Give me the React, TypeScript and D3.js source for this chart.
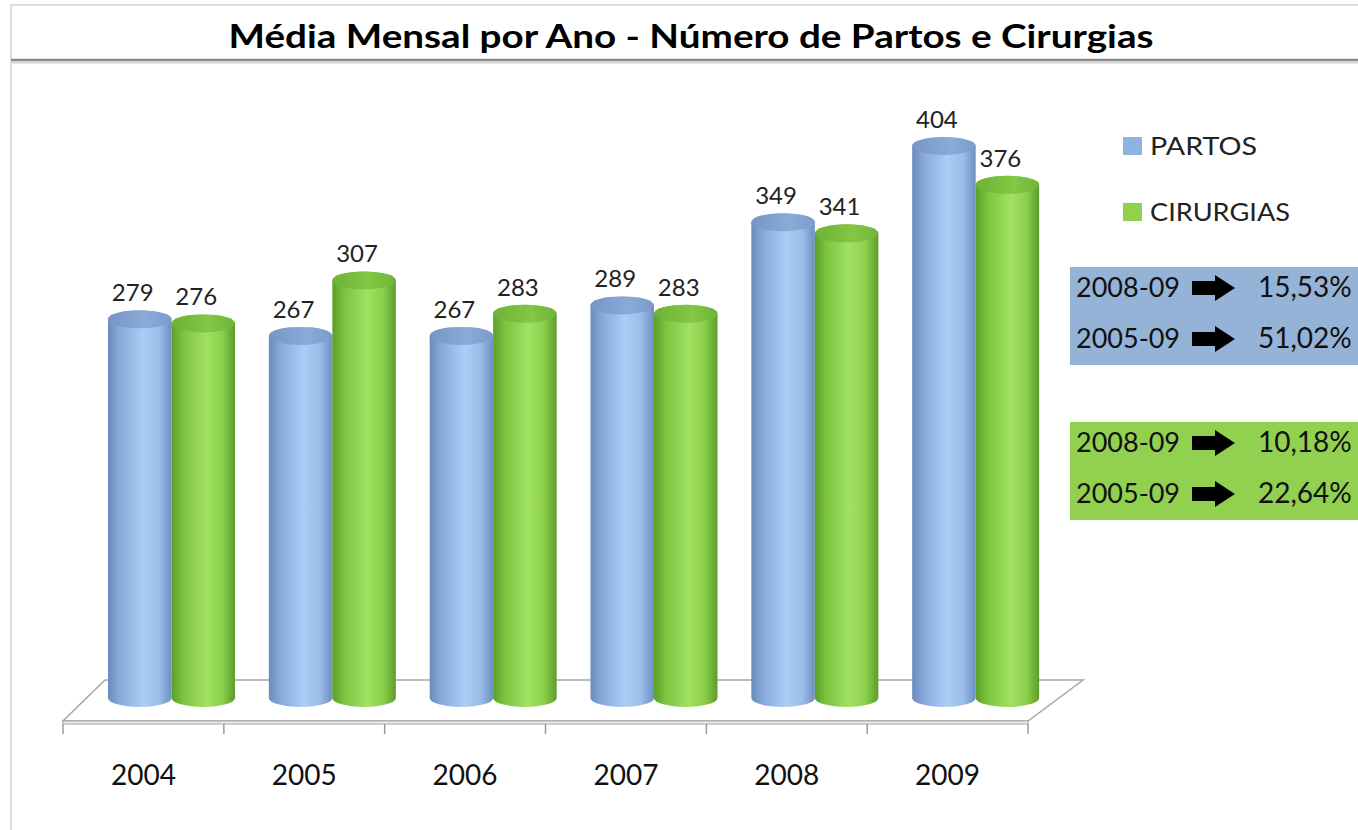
import React from 'react';
import * as d3 from 'd3';

const years = ['2004', '2005', '2006', '2007', '2008', '2009'];
const seriesNames = ['PARTOS', 'CIRURGIAS'];
const partos = [279, 267, 267, 289, 349, 404];
const cirurgias = [276, 307, 283, 283, 341, 376];
const partosChange = [['2008-09', '15,53%'], ['2005-09', '51,02%']];
const cirurgiasChange = [['2008-09', '10,18%'], ['2005-09', '22,64%']];
const titleText = 'Média Mensal por Ano - Número de Partos e Cirurgias';

const W = 1358;
const H = 830;
const FONT = 'Lato, "Open Sans", sans-serif';

const COLORS = {
  blueGrad: ['#6a8cbd', '#87a9d9', '#abcdf6', '#9abde9', '#6d90c2'],
  greenGrad: ['#5a9f28', '#7cc43e', '#a2e162', '#8bd04b', '#5c9c2b'],
  blueTop: '#8aaad8',
  greenTop: '#84c645',
  blueLegend: '#8db3e2',
  greenLegend: '#92d050',
  blueBox: '#95b3d7',
  greenBox: '#92d050',
};

function Arrow({ x, y }: { x: number; y: number }) {
  // y = vertical centre
  const p = [
    [x, y - 7], [x + 23, y - 7], [x + 23, y - 13], [x + 43, y], [x + 23, y + 13], [x + 23, y + 7], [x, y + 7],
  ];
  return <polygon points={p.map((d) => d.join(',')).join(' ')} fill="#000" />;
}

export default function App() {
  const floorFrontY = 721;
  const floorBackY = 680;
  const x0 = 63;
  const x1 = 1028;
  const depthDx = 42;

  const xBand = d3.scaleBand<string>().domain(years).range([x0, x1]).padding(0);
  const inner = d3.scaleBand<string>().domain(seriesNames).range([45, 172]).padding(0);
  const yTop = d3.scaleLinear().domain([0, 404]).range([697, 137]);
  const ry = 9;
  const bottomC = 698;

  const values: Record<string, number[]> = { PARTOS: partos, CIRURGIAS: cirurgias };

  const cyl = (name: string, i: number) => {
    const v = values[name][i];
    const left = (xBand(years[i]) as number) + (inner(name) as number);
    const w = inner.bandwidth();
    const rx = w / 2;
    const cx = left + rx;
    const topC = yTop(v) + ry;
    const right = left + w;
    const d = `M${left},${topC} L${left},${bottomC} A${rx},${ry} 0 0 0 ${right},${bottomC} L${right},${topC} A${rx},${ry} 0 0 0 ${left},${topC} Z`;
    const isBlue = name === 'PARTOS';
    return (
      <g key={name + i}>
        <path d={d} fill={`url(#${isBlue ? 'gb' : 'gg'})`} />
        <ellipse cx={cx} cy={topC} rx={rx} ry={ry} fill={`url(#${isBlue ? 'tb' : 'tg'})`} />
        <text x={cx - 7} y={yTop(v) - 9} textAnchor="middle" fontSize={24} fontFamily={FONT} fill="#222">
          {v}
        </text>
      </g>
    );
  };

  const ticks = d3.range(years.length + 1).map((k) => x0 + k * xBand.step());

  const box = (rows: string[][], y: number, fill: string) => (
    <g>
      <rect x={1070} y={y} width={W - 1070} height={98} fill={fill} />
      {rows.map((r, j) => {
        const base = y + 30 + j * 51;
        return (
          <g key={j}>
            <text x={1076} y={base} fontSize={27} fontFamily={FONT} fill="#111">{r[0]}</text>
            <Arrow x={1192} y={base - 9} />
            <text x={1258} y={base} fontSize={28} fontFamily={FONT} fill="#111">{r[1]}</text>
          </g>
        );
      })}
    </g>
  );

  const gradStops = (cols: string[]) =>
    [0, 0.18, 0.55, 0.8, 1].map((o, k) => <stop key={k} offset={o} stopColor={cols[k]} />);

  return (
    <div style={{ position: 'absolute', left: 0, top: 0 }}>
      <svg width={W} height={H} style={{ display: 'block', background: '#fff' }}>
        <defs>
          <linearGradient id="gb" x1="0" x2="1" y1="0" y2="0">{gradStops(COLORS.blueGrad)}</linearGradient>
          <linearGradient id="gg" x1="0" x2="1" y1="0" y2="0">{gradStops(COLORS.greenGrad)}</linearGradient>
          <linearGradient id="tb" x1="0" x2="1" y1="0" y2="0">
            <stop offset="0" stopColor="#7796c6" />
            <stop offset="0.6" stopColor={COLORS.blueTop} />
            <stop offset="1" stopColor="#7b9bcb" />
          </linearGradient>
          <linearGradient id="tg" x1="0" x2="1" y1="0" y2="0">
            <stop offset="0" stopColor="#6cb334" />
            <stop offset="0.6" stopColor={COLORS.greenTop} />
            <stop offset="1" stopColor="#6fb536" />
          </linearGradient>
        </defs>

        {/* frame */}
        <line x1={10} x2={W} y1={5} y2={5} stroke="#dcdcdc" strokeWidth={2} />
        <line x1={11} x2={11} y1={5} y2={H} stroke="#dcdcdc" strokeWidth={2} />

        {/* title */}
        <text x={691} y={48} textAnchor="middle" fontSize={32} fontWeight="bold" fontFamily={FONT} fill="#000"
          textLength={925} lengthAdjust="spacingAndGlyphs">
          {titleText}
        </text>
        <line x1={11} x2={W} y1={60} y2={60} stroke="#8a8a8a" strokeWidth={2.5} />
        <line x1={11} x2={W} y1={62.5} y2={62.5} stroke="#d0d0d0" strokeWidth={2} />

        {/* floor */}
        <polygon
          points={`${x0 + depthDx},${floorBackY} ${x1 + depthDx + 13},${floorBackY} ${x1},${floorFrontY} ${x0},${floorFrontY}`}
          fill="#fff" stroke="#a6a6a6" strokeWidth={1.5} />
        <rect x={x0} y={floorFrontY} width={x1 - x0} height={3} fill="#ececec" stroke="#a6a6a6" strokeWidth={1} />

        {/* ticks */}
        {ticks.map((t, k) => (
          <line key={k} x1={t} x2={t} y1={floorFrontY + 3} y2={floorFrontY + 13} stroke="#9a9a9a" strokeWidth={1.5} />
        ))}

        {/* cylinders */}
        {years.map((_, i) => seriesNames.map((n) => cyl(n, i)))}

        {/* year labels */}
        {years.map((yr) => (
          <text key={yr} x={(xBand(yr) as number) + xBand.bandwidth() / 2} y={785} textAnchor="middle"
            fontSize={28} fontFamily={FONT} fill="#111">
            {yr}
          </text>
        ))}

        {/* legend */}
        {seriesNames.map((n, k) => (
          <g key={n}>
            <rect x={1123} y={137 + k * 66} width={19} height={18}
              fill={k === 0 ? COLORS.blueLegend : COLORS.greenLegend} />
            <text x={1150} y={155 + k * 66} fontSize={25} fontFamily={FONT} fill="#222"
              textLength={n === 'PARTOS' ? 107 : 140} lengthAdjust="spacingAndGlyphs">
              {n}
            </text>
          </g>
        ))}

        {box(partosChange, 267, COLORS.blueBox)}
        {box(cirurgiasChange, 422, COLORS.greenBox)}
      </svg>
    </div>
  );
}
